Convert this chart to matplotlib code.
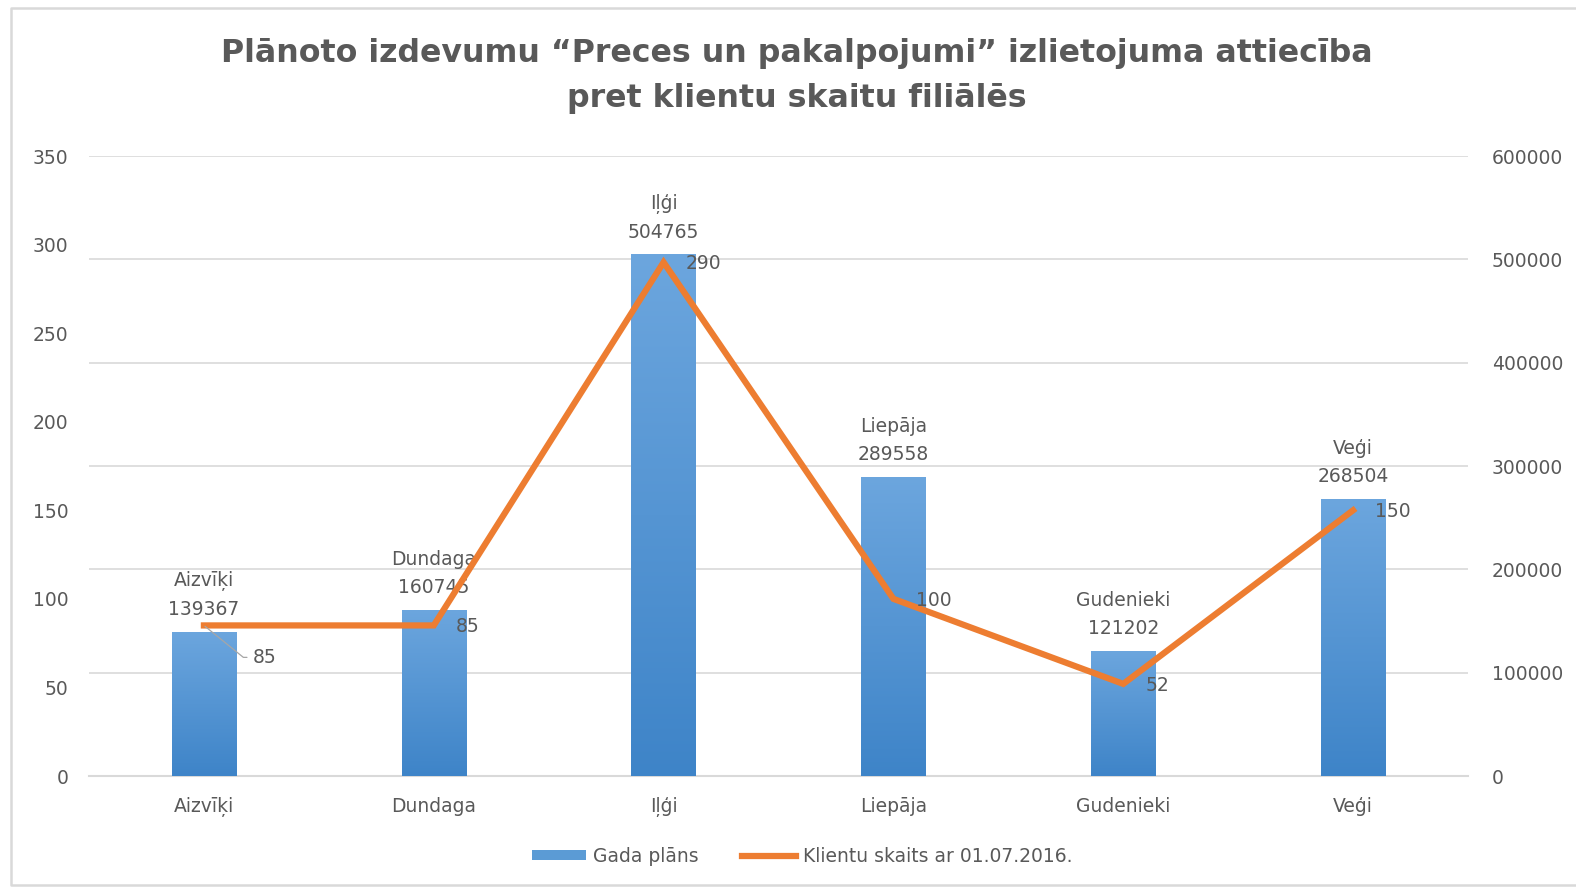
import matplotlib
matplotlib.use("Agg")
import matplotlib.pyplot as plt
import numpy as np
from matplotlib.patches import Patch
from matplotlib.lines import Line2D
from matplotlib.colors import LinearSegmentedColormap

categories = ["Aizvīķi", "Dundaga", "Iļģi", "Liepāja", "Gudenieki", "Veģi"]
plan_values = [139367, 160745, 504765, 289558, 121202, 268504]
client_counts = [85, 85, 290, 100, 52, 150]
left_ticks = [0, 50, 100, 150, 200, 250, 300, 350]
right_ticks = [0, 100000, 200000, 300000, 400000, 500000, 600000]

plt.rcParams['font.family'] = ['DejaVu Sans']
TXT = "#595959"
GRID = "#D9D9D9"
ORANGE = "#ED7D31"
FS = 13.5

W, H = 1576, 891
fig = plt.figure(figsize=(W / 100, H / 100), dpi=100)
fig.patch.set_facecolor("white")

# outer border (top, left, bottom; right side cut off)
bx0, by0, by1 = 11 / W, 1 - 885 / H, 1 - 8 / H
fig.add_artist(Line2D([1.0, bx0, bx0, 1.0], [by1, by1, by0, by0], transform=fig.transFigure,
                      color="#D9D9D9", linewidth=1.8))

ax2 = fig.add_axes([89 / W, 1 - 776 / H, (1468 - 89) / W, (776 - 156) / H])
ax = ax2.twinx()
ax2.yaxis.tick_right()
ax.yaxis.tick_left()

x = np.arange(len(categories))
bw = 0.28
bars = ax2.bar(x, plan_values, width=bw, color="#5B9BD5", zorder=2)
cmap = LinearSegmentedColormap.from_list("g", ["#3E84C8", "#6CA6DE"])
grad = np.linspace(0, 1, 256).reshape(-1, 1)
for b in bars:
    x0, w, h = b.get_x(), b.get_width(), b.get_height()
    im = ax2.imshow(grad, extent=[x0, x0 + w, 0, h], origin="lower", cmap=cmap,
                    aspect="auto", zorder=3)
    im.set_clip_path(b)

ax2.set_xlim(-0.5, len(categories) - 0.5)
ax2.set_ylim(0, 600000)
ax2.set_yticks(right_ticks)
ax2.set_yticklabels([str(v) for v in right_ticks])
ax2.grid(axis="y", color=GRID, linewidth=1.2, zorder=0)
ax2.set_axisbelow(True)

ax.set_ylim(0, 350)
ax.set_yticks(left_ticks)
ax.set_yticklabels([str(v) for v in left_ticks])
ax.plot(x, client_counts, color=ORANGE, linewidth=4.5, solid_joinstyle="miter", zorder=5)

ax.set_zorder(ax2.get_zorder() + 1)
ax.patch.set_visible(False)

for a in (ax, ax2):
    for s in a.spines.values():
        s.set_visible(False)
ax2.spines["bottom"].set_visible(True)
ax2.spines["bottom"].set_color(GRID)
ax2.spines["bottom"].set_linewidth(1.5)

ax2.set_xticks(x)
ax2.set_xticklabels(categories)
ax2.tick_params(axis="x", length=0, pad=15, labelsize=FS, labelcolor=TXT)
ax2.tick_params(axis="y", length=0, pad=17, labelsize=FS, labelcolor=TXT)
ax.tick_params(axis="y", length=0, pad=15, labelsize=FS, labelcolor=TXT)
for lab in ax2.get_yticklabels():
    lab.set_horizontalalignment("left")

# bar labels
for i, (c, v) in enumerate(zip(categories, plan_values)):
    ax2.annotate(f"{c}\n{v}", xy=(i, v), xytext=(0, 9), textcoords="offset points",
                 ha="center", va="bottom", fontsize=FS, color=TXT, linespacing=1.6, zorder=6)

# line labels
for i, v in enumerate(client_counts):
    if i == 0:
        ax.annotate(str(v), xy=(i, v), xytext=(35, -23), textcoords="offset points",
                    ha="left", va="center", fontsize=FS, color=TXT, zorder=7,
                    arrowprops=dict(arrowstyle="-", color="#A6A6A6", lw=0.9,
                                    connectionstyle="angle,angleA=0,angleB=141,rad=0",
                                    shrinkA=2, shrinkB=1))
    else:
        ax.annotate(str(v), xy=(i, v), xytext=(16, -1), textcoords="offset points",
                    ha="left", va="center", fontsize=FS, color=TXT, zorder=7)

# title
fig.text(797 / W, 1 - 76 / H,
         "Plānoto izdevumu \u201cPreces un pakalpojumi\u201d izlietojuma attiecība\npret klientu skaitu filiālēs",
         ha="center", va="center", fontsize=22.8, fontweight="bold", color=TXT, linespacing=1.62)

handles = [Patch(facecolor="#5B9BD5", edgecolor="none"),
           Line2D([0], [0], color=ORANGE, linewidth=4.5)]
leg = fig.legend(handles, ["Gada plāns", "Klientu skaits ar 01.07.2016."],
                 loc="center", bbox_to_anchor=(802 / W, 1 - 856 / H), ncol=2, frameon=False,
                 fontsize=FS, handlelength=2.9, handleheight=0.5, handletextpad=0.35,
                 columnspacing=2.3)
for t in leg.get_texts():
    t.set_color(TXT)

fig.savefig("out.png", dpi=100, facecolor="white")
